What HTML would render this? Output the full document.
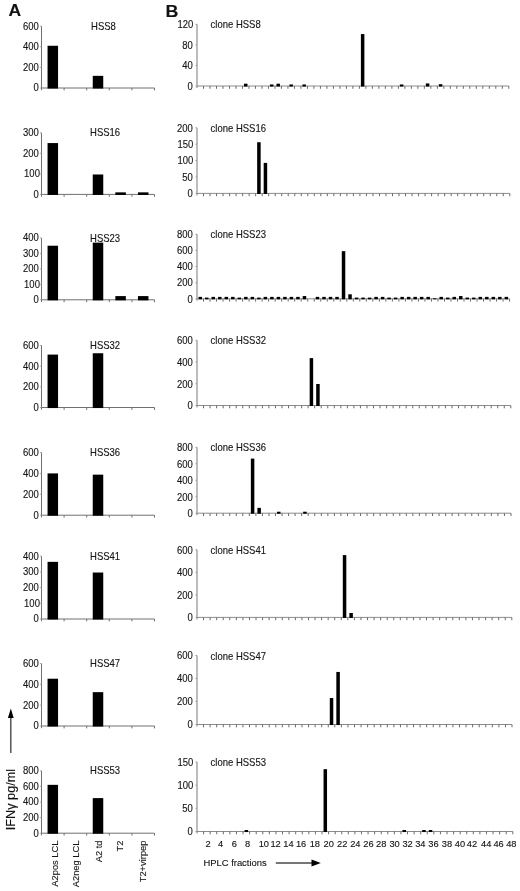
<!DOCTYPE html>
<html><head><meta charset="utf-8"><title>Figure</title>
<style>
html,body{margin:0;padding:0;background:#fff;}
body{width:520px;height:891px;overflow:hidden;}
svg{display:block;filter:blur(0.5px);}
svg text{font-family:"Liberation Sans",sans-serif;font-size:9.5px;fill:#111;stroke:#222;stroke-width:0.12px;}
</style></head><body>
<svg width="520" height="891" viewBox="0 0 520 891">
<rect x="0" y="0" width="520" height="891" fill="#fff"/>
<line x1="41.5" y1="26.2" x2="41.5" y2="90.2" stroke="#707070" stroke-width="1"/>
<line x1="41.5" y1="88" x2="154.5" y2="88" stroke="#707070" stroke-width="1"/>
<line x1="64.1" y1="88" x2="64.1" y2="90.4" stroke="#707070" stroke-width="1"/>
<line x1="86.7" y1="88" x2="86.7" y2="90.4" stroke="#707070" stroke-width="1"/>
<line x1="109.3" y1="88" x2="109.3" y2="90.4" stroke="#707070" stroke-width="1"/>
<line x1="131.9" y1="88" x2="131.9" y2="90.4" stroke="#707070" stroke-width="1"/>
<line x1="154.5" y1="88" x2="154.5" y2="90.4" stroke="#707070" stroke-width="1"/>
<line x1="39.9" y1="88" x2="41.5" y2="88" stroke="#a0a0a0" stroke-width="0.9"/>
<text transform="translate(38.7,91.35) scale(1,1.06)" text-anchor="end">0</text>
<line x1="39.9" y1="67.4" x2="41.5" y2="67.4" stroke="#a0a0a0" stroke-width="0.9"/>
<text transform="translate(38.7,70.75) scale(1,1.06)" text-anchor="end">200</text>
<line x1="39.9" y1="46.8" x2="41.5" y2="46.8" stroke="#a0a0a0" stroke-width="0.9"/>
<text transform="translate(38.7,50.15) scale(1,1.06)" text-anchor="end">400</text>
<line x1="39.9" y1="26.2" x2="41.5" y2="26.2" stroke="#a0a0a0" stroke-width="0.9"/>
<text transform="translate(38.7,29.55) scale(1,1.06)" text-anchor="end">600</text>
<text transform="translate(91.1,29.7) scale(1,1.06)">HSS8</text>
<rect x="47.55" y="45.77" width="10.5" height="42.78" fill="#000"/>
<rect x="92.75" y="75.85" width="10.5" height="12.7" fill="#000"/>
<line x1="41.5" y1="132.8" x2="41.5" y2="196.6" stroke="#707070" stroke-width="1"/>
<line x1="41.5" y1="194.4" x2="154.5" y2="194.4" stroke="#707070" stroke-width="1"/>
<line x1="64.1" y1="194.4" x2="64.1" y2="196.8" stroke="#707070" stroke-width="1"/>
<line x1="86.7" y1="194.4" x2="86.7" y2="196.8" stroke="#707070" stroke-width="1"/>
<line x1="109.3" y1="194.4" x2="109.3" y2="196.8" stroke="#707070" stroke-width="1"/>
<line x1="131.9" y1="194.4" x2="131.9" y2="196.8" stroke="#707070" stroke-width="1"/>
<line x1="154.5" y1="194.4" x2="154.5" y2="196.8" stroke="#707070" stroke-width="1"/>
<line x1="39.9" y1="194.4" x2="41.5" y2="194.4" stroke="#a0a0a0" stroke-width="0.9"/>
<text transform="translate(38.7,197.75) scale(1,1.06)" text-anchor="end">0</text>
<line x1="39.9" y1="173.87" x2="41.5" y2="173.87" stroke="#a0a0a0" stroke-width="0.9"/>
<text transform="translate(39.9,177.22) scale(1,1.06)" text-anchor="end">100</text>
<line x1="39.9" y1="153.33" x2="41.5" y2="153.33" stroke="#a0a0a0" stroke-width="0.9"/>
<text transform="translate(38.7,156.68) scale(1,1.06)" text-anchor="end">200</text>
<line x1="39.9" y1="132.8" x2="41.5" y2="132.8" stroke="#a0a0a0" stroke-width="0.9"/>
<text transform="translate(38.7,136.15) scale(1,1.06)" text-anchor="end">300</text>
<text transform="translate(90.1,136.3) scale(1,1.06)">HSS16</text>
<rect x="47.55" y="143.07" width="10.5" height="51.88" fill="#000"/>
<rect x="92.75" y="174.48" width="10.5" height="20.47" fill="#000"/>
<rect x="115.35" y="192.35" width="10.5" height="2.6" fill="#000"/>
<rect x="137.95" y="192.35" width="10.5" height="2.6" fill="#000"/>
<line x1="41.5" y1="238" x2="41.5" y2="302" stroke="#707070" stroke-width="1"/>
<line x1="41.5" y1="299.8" x2="154.5" y2="299.8" stroke="#707070" stroke-width="1"/>
<line x1="64.1" y1="299.8" x2="64.1" y2="302.2" stroke="#707070" stroke-width="1"/>
<line x1="86.7" y1="299.8" x2="86.7" y2="302.2" stroke="#707070" stroke-width="1"/>
<line x1="109.3" y1="299.8" x2="109.3" y2="302.2" stroke="#707070" stroke-width="1"/>
<line x1="131.9" y1="299.8" x2="131.9" y2="302.2" stroke="#707070" stroke-width="1"/>
<line x1="154.5" y1="299.8" x2="154.5" y2="302.2" stroke="#707070" stroke-width="1"/>
<line x1="39.9" y1="299.8" x2="41.5" y2="299.8" stroke="#a0a0a0" stroke-width="0.9"/>
<text transform="translate(38.7,303.15) scale(1,1.06)" text-anchor="end">0</text>
<line x1="39.9" y1="284.35" x2="41.5" y2="284.35" stroke="#a0a0a0" stroke-width="0.9"/>
<text transform="translate(39.9,287.7) scale(1,1.06)" text-anchor="end">100</text>
<line x1="39.9" y1="268.9" x2="41.5" y2="268.9" stroke="#a0a0a0" stroke-width="0.9"/>
<text transform="translate(38.7,272.25) scale(1,1.06)" text-anchor="end">200</text>
<line x1="39.9" y1="253.45" x2="41.5" y2="253.45" stroke="#a0a0a0" stroke-width="0.9"/>
<text transform="translate(38.7,256.8) scale(1,1.06)" text-anchor="end">300</text>
<line x1="39.9" y1="238" x2="41.5" y2="238" stroke="#a0a0a0" stroke-width="0.9"/>
<text transform="translate(38.7,241.35) scale(1,1.06)" text-anchor="end">400</text>
<text transform="translate(90.1,241.5) scale(1,1.06)">HSS23</text>
<rect x="47.55" y="245.72" width="10.5" height="54.63" fill="#000"/>
<rect x="92.75" y="242.63" width="10.5" height="57.72" fill="#000"/>
<rect x="115.35" y="296.09" width="10.5" height="4.26" fill="#000"/>
<rect x="137.95" y="296.09" width="10.5" height="4.26" fill="#000"/>
<line x1="41.5" y1="345.5" x2="41.5" y2="409.7" stroke="#707070" stroke-width="1"/>
<line x1="41.5" y1="407.5" x2="154.5" y2="407.5" stroke="#707070" stroke-width="1"/>
<line x1="64.1" y1="407.5" x2="64.1" y2="409.9" stroke="#707070" stroke-width="1"/>
<line x1="86.7" y1="407.5" x2="86.7" y2="409.9" stroke="#707070" stroke-width="1"/>
<line x1="109.3" y1="407.5" x2="109.3" y2="409.9" stroke="#707070" stroke-width="1"/>
<line x1="131.9" y1="407.5" x2="131.9" y2="409.9" stroke="#707070" stroke-width="1"/>
<line x1="154.5" y1="407.5" x2="154.5" y2="409.9" stroke="#707070" stroke-width="1"/>
<line x1="39.9" y1="407.5" x2="41.5" y2="407.5" stroke="#a0a0a0" stroke-width="0.9"/>
<text transform="translate(38.7,410.85) scale(1,1.06)" text-anchor="end">0</text>
<line x1="39.9" y1="386.83" x2="41.5" y2="386.83" stroke="#a0a0a0" stroke-width="0.9"/>
<text transform="translate(38.7,390.18) scale(1,1.06)" text-anchor="end">200</text>
<line x1="39.9" y1="366.17" x2="41.5" y2="366.17" stroke="#a0a0a0" stroke-width="0.9"/>
<text transform="translate(38.7,369.52) scale(1,1.06)" text-anchor="end">400</text>
<line x1="39.9" y1="345.5" x2="41.5" y2="345.5" stroke="#a0a0a0" stroke-width="0.9"/>
<text transform="translate(38.7,348.85) scale(1,1.06)" text-anchor="end">600</text>
<text transform="translate(90.1,349) scale(1,1.06)">HSS32</text>
<rect x="47.55" y="354.59" width="10.5" height="53.46" fill="#000"/>
<rect x="92.75" y="353.25" width="10.5" height="54.8" fill="#000"/>
<line x1="41.5" y1="452.5" x2="41.5" y2="517.4" stroke="#707070" stroke-width="1"/>
<line x1="41.5" y1="515.2" x2="154.5" y2="515.2" stroke="#707070" stroke-width="1"/>
<line x1="64.1" y1="515.2" x2="64.1" y2="517.6" stroke="#707070" stroke-width="1"/>
<line x1="86.7" y1="515.2" x2="86.7" y2="517.6" stroke="#707070" stroke-width="1"/>
<line x1="109.3" y1="515.2" x2="109.3" y2="517.6" stroke="#707070" stroke-width="1"/>
<line x1="131.9" y1="515.2" x2="131.9" y2="517.6" stroke="#707070" stroke-width="1"/>
<line x1="154.5" y1="515.2" x2="154.5" y2="517.6" stroke="#707070" stroke-width="1"/>
<line x1="39.9" y1="515.2" x2="41.5" y2="515.2" stroke="#a0a0a0" stroke-width="0.9"/>
<text transform="translate(38.7,518.55) scale(1,1.06)" text-anchor="end">0</text>
<line x1="39.9" y1="494.3" x2="41.5" y2="494.3" stroke="#a0a0a0" stroke-width="0.9"/>
<text transform="translate(38.7,497.65) scale(1,1.06)" text-anchor="end">200</text>
<line x1="39.9" y1="473.4" x2="41.5" y2="473.4" stroke="#a0a0a0" stroke-width="0.9"/>
<text transform="translate(38.7,476.75) scale(1,1.06)" text-anchor="end">400</text>
<line x1="39.9" y1="452.5" x2="41.5" y2="452.5" stroke="#a0a0a0" stroke-width="0.9"/>
<text transform="translate(38.7,455.85) scale(1,1.06)" text-anchor="end">600</text>
<text transform="translate(90.1,456) scale(1,1.06)">HSS36</text>
<rect x="47.55" y="473.4" width="10.5" height="42.35" fill="#000"/>
<rect x="92.75" y="474.65" width="10.5" height="41.1" fill="#000"/>
<line x1="41.5" y1="556.2" x2="41.5" y2="621.2" stroke="#707070" stroke-width="1"/>
<line x1="41.5" y1="619" x2="154.5" y2="619" stroke="#707070" stroke-width="1"/>
<line x1="64.1" y1="619" x2="64.1" y2="621.4" stroke="#707070" stroke-width="1"/>
<line x1="86.7" y1="619" x2="86.7" y2="621.4" stroke="#707070" stroke-width="1"/>
<line x1="109.3" y1="619" x2="109.3" y2="621.4" stroke="#707070" stroke-width="1"/>
<line x1="131.9" y1="619" x2="131.9" y2="621.4" stroke="#707070" stroke-width="1"/>
<line x1="154.5" y1="619" x2="154.5" y2="621.4" stroke="#707070" stroke-width="1"/>
<line x1="39.9" y1="619" x2="41.5" y2="619" stroke="#a0a0a0" stroke-width="0.9"/>
<text transform="translate(38.7,622.35) scale(1,1.06)" text-anchor="end">0</text>
<line x1="39.9" y1="603.3" x2="41.5" y2="603.3" stroke="#a0a0a0" stroke-width="0.9"/>
<text transform="translate(39.9,606.65) scale(1,1.06)" text-anchor="end">100</text>
<line x1="39.9" y1="587.6" x2="41.5" y2="587.6" stroke="#a0a0a0" stroke-width="0.9"/>
<text transform="translate(38.7,590.95) scale(1,1.06)" text-anchor="end">200</text>
<line x1="39.9" y1="571.9" x2="41.5" y2="571.9" stroke="#a0a0a0" stroke-width="0.9"/>
<text transform="translate(38.7,575.25) scale(1,1.06)" text-anchor="end">300</text>
<line x1="39.9" y1="556.2" x2="41.5" y2="556.2" stroke="#a0a0a0" stroke-width="0.9"/>
<text transform="translate(38.7,559.55) scale(1,1.06)" text-anchor="end">400</text>
<text transform="translate(90.1,559.7) scale(1,1.06)">HSS41</text>
<rect x="47.55" y="561.85" width="10.5" height="57.7" fill="#000"/>
<rect x="92.75" y="572.53" width="10.5" height="47.02" fill="#000"/>
<line x1="41.5" y1="663.5" x2="41.5" y2="728.2" stroke="#707070" stroke-width="1"/>
<line x1="41.5" y1="726" x2="154.5" y2="726" stroke="#707070" stroke-width="1"/>
<line x1="64.1" y1="726" x2="64.1" y2="728.4" stroke="#707070" stroke-width="1"/>
<line x1="86.7" y1="726" x2="86.7" y2="728.4" stroke="#707070" stroke-width="1"/>
<line x1="109.3" y1="726" x2="109.3" y2="728.4" stroke="#707070" stroke-width="1"/>
<line x1="131.9" y1="726" x2="131.9" y2="728.4" stroke="#707070" stroke-width="1"/>
<line x1="154.5" y1="726" x2="154.5" y2="728.4" stroke="#707070" stroke-width="1"/>
<line x1="39.9" y1="726" x2="41.5" y2="726" stroke="#a0a0a0" stroke-width="0.9"/>
<text transform="translate(38.7,729.35) scale(1,1.06)" text-anchor="end">0</text>
<line x1="39.9" y1="705.17" x2="41.5" y2="705.17" stroke="#a0a0a0" stroke-width="0.9"/>
<text transform="translate(38.7,708.52) scale(1,1.06)" text-anchor="end">200</text>
<line x1="39.9" y1="684.33" x2="41.5" y2="684.33" stroke="#a0a0a0" stroke-width="0.9"/>
<text transform="translate(38.7,687.68) scale(1,1.06)" text-anchor="end">400</text>
<line x1="39.9" y1="663.5" x2="41.5" y2="663.5" stroke="#a0a0a0" stroke-width="0.9"/>
<text transform="translate(38.7,666.85) scale(1,1.06)" text-anchor="end">600</text>
<text transform="translate(90.1,667) scale(1,1.06)">HSS47</text>
<rect x="47.55" y="678.71" width="10.5" height="47.84" fill="#000"/>
<rect x="92.75" y="692.15" width="10.5" height="34.4" fill="#000"/>
<line x1="41.5" y1="770.8" x2="41.5" y2="835.4" stroke="#707070" stroke-width="1"/>
<line x1="41.5" y1="833.2" x2="154.5" y2="833.2" stroke="#707070" stroke-width="1"/>
<line x1="64.1" y1="833.2" x2="64.1" y2="835.6" stroke="#707070" stroke-width="1"/>
<line x1="86.7" y1="833.2" x2="86.7" y2="835.6" stroke="#707070" stroke-width="1"/>
<line x1="109.3" y1="833.2" x2="109.3" y2="835.6" stroke="#707070" stroke-width="1"/>
<line x1="131.9" y1="833.2" x2="131.9" y2="835.6" stroke="#707070" stroke-width="1"/>
<line x1="154.5" y1="833.2" x2="154.5" y2="835.6" stroke="#707070" stroke-width="1"/>
<line x1="39.9" y1="833.2" x2="41.5" y2="833.2" stroke="#a0a0a0" stroke-width="0.9"/>
<text transform="translate(38.7,836.55) scale(1,1.06)" text-anchor="end">0</text>
<line x1="39.9" y1="817.6" x2="41.5" y2="817.6" stroke="#a0a0a0" stroke-width="0.9"/>
<text transform="translate(38.7,820.95) scale(1,1.06)" text-anchor="end">200</text>
<line x1="39.9" y1="802" x2="41.5" y2="802" stroke="#a0a0a0" stroke-width="0.9"/>
<text transform="translate(38.7,805.35) scale(1,1.06)" text-anchor="end">400</text>
<line x1="39.9" y1="786.4" x2="41.5" y2="786.4" stroke="#a0a0a0" stroke-width="0.9"/>
<text transform="translate(38.7,789.75) scale(1,1.06)" text-anchor="end">600</text>
<line x1="39.9" y1="770.8" x2="41.5" y2="770.8" stroke="#a0a0a0" stroke-width="0.9"/>
<text transform="translate(38.7,774.15) scale(1,1.06)" text-anchor="end">800</text>
<text transform="translate(90.1,774.3) scale(1,1.06)">HSS53</text>
<rect x="47.55" y="784.84" width="10.5" height="48.91" fill="#000"/>
<rect x="92.75" y="798.1" width="10.5" height="35.65" fill="#000"/>
<text transform="translate(57.9,840.5) rotate(-90)" text-anchor="end" style="font-size:9.35px">A2pos LCL</text>
<text transform="translate(79.4,840.5) rotate(-90)" text-anchor="end" style="font-size:9.35px">A2neg LCL</text>
<text transform="translate(101.6,840.5) rotate(-90)" text-anchor="end" style="font-size:9.35px">A2 td</text>
<text transform="translate(123.4,840.5) rotate(-90)" text-anchor="end" style="font-size:9.35px">T2</text>
<text transform="translate(145.6,840.5) rotate(-90)" text-anchor="end" style="font-size:9.35px">T2+virpep</text>
<line x1="197" y1="24.3" x2="197" y2="88" stroke="#999" stroke-width="1.3"/>
<line x1="197" y1="86" x2="508.8" y2="86" stroke="#8c8c8c" stroke-width="1"/>
<line x1="203.5" y1="86" x2="203.5" y2="88.8" stroke="#6a6a6a" stroke-width="1"/>
<line x1="209.99" y1="86" x2="209.99" y2="88.8" stroke="#6a6a6a" stroke-width="1"/>
<line x1="216.49" y1="86" x2="216.49" y2="88.8" stroke="#6a6a6a" stroke-width="1"/>
<line x1="222.98" y1="86" x2="222.98" y2="88.8" stroke="#6a6a6a" stroke-width="1"/>
<line x1="229.48" y1="86" x2="229.48" y2="88.8" stroke="#6a6a6a" stroke-width="1"/>
<line x1="235.97" y1="86" x2="235.97" y2="88.8" stroke="#6a6a6a" stroke-width="1"/>
<line x1="242.47" y1="86" x2="242.47" y2="88.8" stroke="#6a6a6a" stroke-width="1"/>
<line x1="248.97" y1="86" x2="248.97" y2="88.8" stroke="#6a6a6a" stroke-width="1"/>
<line x1="255.46" y1="86" x2="255.46" y2="88.8" stroke="#6a6a6a" stroke-width="1"/>
<line x1="261.96" y1="86" x2="261.96" y2="88.8" stroke="#6a6a6a" stroke-width="1"/>
<line x1="268.45" y1="86" x2="268.45" y2="88.8" stroke="#6a6a6a" stroke-width="1"/>
<line x1="274.95" y1="86" x2="274.95" y2="88.8" stroke="#6a6a6a" stroke-width="1"/>
<line x1="281.45" y1="86" x2="281.45" y2="88.8" stroke="#6a6a6a" stroke-width="1"/>
<line x1="287.94" y1="86" x2="287.94" y2="88.8" stroke="#6a6a6a" stroke-width="1"/>
<line x1="294.44" y1="86" x2="294.44" y2="88.8" stroke="#6a6a6a" stroke-width="1"/>
<line x1="300.93" y1="86" x2="300.93" y2="88.8" stroke="#6a6a6a" stroke-width="1"/>
<line x1="307.43" y1="86" x2="307.43" y2="88.8" stroke="#6a6a6a" stroke-width="1"/>
<line x1="313.93" y1="86" x2="313.93" y2="88.8" stroke="#6a6a6a" stroke-width="1"/>
<line x1="320.42" y1="86" x2="320.42" y2="88.8" stroke="#6a6a6a" stroke-width="1"/>
<line x1="326.92" y1="86" x2="326.92" y2="88.8" stroke="#6a6a6a" stroke-width="1"/>
<line x1="333.41" y1="86" x2="333.41" y2="88.8" stroke="#6a6a6a" stroke-width="1"/>
<line x1="339.91" y1="86" x2="339.91" y2="88.8" stroke="#6a6a6a" stroke-width="1"/>
<line x1="346.4" y1="86" x2="346.4" y2="88.8" stroke="#6a6a6a" stroke-width="1"/>
<line x1="352.9" y1="86" x2="352.9" y2="88.8" stroke="#6a6a6a" stroke-width="1"/>
<line x1="359.4" y1="86" x2="359.4" y2="88.8" stroke="#6a6a6a" stroke-width="1"/>
<line x1="365.89" y1="86" x2="365.89" y2="88.8" stroke="#6a6a6a" stroke-width="1"/>
<line x1="372.39" y1="86" x2="372.39" y2="88.8" stroke="#6a6a6a" stroke-width="1"/>
<line x1="378.88" y1="86" x2="378.88" y2="88.8" stroke="#6a6a6a" stroke-width="1"/>
<line x1="385.38" y1="86" x2="385.38" y2="88.8" stroke="#6a6a6a" stroke-width="1"/>
<line x1="391.88" y1="86" x2="391.88" y2="88.8" stroke="#6a6a6a" stroke-width="1"/>
<line x1="398.37" y1="86" x2="398.37" y2="88.8" stroke="#6a6a6a" stroke-width="1"/>
<line x1="404.87" y1="86" x2="404.87" y2="88.8" stroke="#6a6a6a" stroke-width="1"/>
<line x1="411.36" y1="86" x2="411.36" y2="88.8" stroke="#6a6a6a" stroke-width="1"/>
<line x1="417.86" y1="86" x2="417.86" y2="88.8" stroke="#6a6a6a" stroke-width="1"/>
<line x1="424.35" y1="86" x2="424.35" y2="88.8" stroke="#6a6a6a" stroke-width="1"/>
<line x1="430.85" y1="86" x2="430.85" y2="88.8" stroke="#6a6a6a" stroke-width="1"/>
<line x1="437.35" y1="86" x2="437.35" y2="88.8" stroke="#6a6a6a" stroke-width="1"/>
<line x1="443.84" y1="86" x2="443.84" y2="88.8" stroke="#6a6a6a" stroke-width="1"/>
<line x1="450.34" y1="86" x2="450.34" y2="88.8" stroke="#6a6a6a" stroke-width="1"/>
<line x1="456.83" y1="86" x2="456.83" y2="88.8" stroke="#6a6a6a" stroke-width="1"/>
<line x1="463.33" y1="86" x2="463.33" y2="88.8" stroke="#6a6a6a" stroke-width="1"/>
<line x1="469.82" y1="86" x2="469.82" y2="88.8" stroke="#6a6a6a" stroke-width="1"/>
<line x1="476.32" y1="86" x2="476.32" y2="88.8" stroke="#6a6a6a" stroke-width="1"/>
<line x1="482.82" y1="86" x2="482.82" y2="88.8" stroke="#6a6a6a" stroke-width="1"/>
<line x1="489.31" y1="86" x2="489.31" y2="88.8" stroke="#6a6a6a" stroke-width="1"/>
<line x1="495.81" y1="86" x2="495.81" y2="88.8" stroke="#6a6a6a" stroke-width="1"/>
<line x1="502.3" y1="86" x2="502.3" y2="88.8" stroke="#6a6a6a" stroke-width="1"/>
<line x1="508.8" y1="86" x2="508.8" y2="88.8" stroke="#6a6a6a" stroke-width="1"/>
<line x1="195.5" y1="86" x2="197" y2="86" stroke="#999" stroke-width="1"/>
<text transform="translate(192.8,89.8) scale(1,1.06)" text-anchor="end">0</text>
<line x1="195.5" y1="65.43" x2="197" y2="65.43" stroke="#999" stroke-width="1"/>
<text transform="translate(192.8,69.23) scale(1,1.06)" text-anchor="end">40</text>
<line x1="195.5" y1="44.87" x2="197" y2="44.87" stroke="#999" stroke-width="1"/>
<text transform="translate(192.8,48.67) scale(1,1.06)" text-anchor="end">80</text>
<line x1="195.5" y1="24.3" x2="197" y2="24.3" stroke="#999" stroke-width="1"/>
<text transform="translate(193.2,28.1) scale(1,1.06)" text-anchor="end">120</text>
<text transform="translate(210.6,28.3) scale(1,1.06)">clone HSS8</text>
<rect x="243.97" y="83.69" width="3.5" height="2.86" fill="#000"/>
<rect x="269.95" y="84.46" width="3.5" height="2.09" fill="#000"/>
<rect x="276.45" y="83.69" width="3.5" height="2.86" fill="#000"/>
<rect x="289.44" y="84.46" width="3.5" height="2.09" fill="#000"/>
<rect x="302.43" y="84.46" width="3.5" height="2.09" fill="#000"/>
<rect x="360.89" y="34.07" width="3.5" height="52.48" fill="#000"/>
<rect x="399.87" y="84.46" width="3.5" height="2.09" fill="#000"/>
<rect x="425.85" y="83.43" width="3.5" height="3.12" fill="#000"/>
<rect x="438.84" y="84.2" width="3.5" height="2.35" fill="#000"/>
<line x1="197" y1="127.8" x2="197" y2="195.4" stroke="#999" stroke-width="1.3"/>
<line x1="197" y1="193.4" x2="509.8" y2="193.4" stroke="#8c8c8c" stroke-width="1"/>
<line x1="203.52" y1="193.4" x2="203.52" y2="196.2" stroke="#6a6a6a" stroke-width="1"/>
<line x1="210.03" y1="193.4" x2="210.03" y2="196.2" stroke="#6a6a6a" stroke-width="1"/>
<line x1="216.55" y1="193.4" x2="216.55" y2="196.2" stroke="#6a6a6a" stroke-width="1"/>
<line x1="223.07" y1="193.4" x2="223.07" y2="196.2" stroke="#6a6a6a" stroke-width="1"/>
<line x1="229.58" y1="193.4" x2="229.58" y2="196.2" stroke="#6a6a6a" stroke-width="1"/>
<line x1="236.1" y1="193.4" x2="236.1" y2="196.2" stroke="#6a6a6a" stroke-width="1"/>
<line x1="242.62" y1="193.4" x2="242.62" y2="196.2" stroke="#6a6a6a" stroke-width="1"/>
<line x1="249.13" y1="193.4" x2="249.13" y2="196.2" stroke="#6a6a6a" stroke-width="1"/>
<line x1="255.65" y1="193.4" x2="255.65" y2="196.2" stroke="#6a6a6a" stroke-width="1"/>
<line x1="262.17" y1="193.4" x2="262.17" y2="196.2" stroke="#6a6a6a" stroke-width="1"/>
<line x1="268.68" y1="193.4" x2="268.68" y2="196.2" stroke="#6a6a6a" stroke-width="1"/>
<line x1="275.2" y1="193.4" x2="275.2" y2="196.2" stroke="#6a6a6a" stroke-width="1"/>
<line x1="281.72" y1="193.4" x2="281.72" y2="196.2" stroke="#6a6a6a" stroke-width="1"/>
<line x1="288.23" y1="193.4" x2="288.23" y2="196.2" stroke="#6a6a6a" stroke-width="1"/>
<line x1="294.75" y1="193.4" x2="294.75" y2="196.2" stroke="#6a6a6a" stroke-width="1"/>
<line x1="301.27" y1="193.4" x2="301.27" y2="196.2" stroke="#6a6a6a" stroke-width="1"/>
<line x1="307.78" y1="193.4" x2="307.78" y2="196.2" stroke="#6a6a6a" stroke-width="1"/>
<line x1="314.3" y1="193.4" x2="314.3" y2="196.2" stroke="#6a6a6a" stroke-width="1"/>
<line x1="320.82" y1="193.4" x2="320.82" y2="196.2" stroke="#6a6a6a" stroke-width="1"/>
<line x1="327.33" y1="193.4" x2="327.33" y2="196.2" stroke="#6a6a6a" stroke-width="1"/>
<line x1="333.85" y1="193.4" x2="333.85" y2="196.2" stroke="#6a6a6a" stroke-width="1"/>
<line x1="340.37" y1="193.4" x2="340.37" y2="196.2" stroke="#6a6a6a" stroke-width="1"/>
<line x1="346.88" y1="193.4" x2="346.88" y2="196.2" stroke="#6a6a6a" stroke-width="1"/>
<line x1="353.4" y1="193.4" x2="353.4" y2="196.2" stroke="#6a6a6a" stroke-width="1"/>
<line x1="359.92" y1="193.4" x2="359.92" y2="196.2" stroke="#6a6a6a" stroke-width="1"/>
<line x1="366.43" y1="193.4" x2="366.43" y2="196.2" stroke="#6a6a6a" stroke-width="1"/>
<line x1="372.95" y1="193.4" x2="372.95" y2="196.2" stroke="#6a6a6a" stroke-width="1"/>
<line x1="379.47" y1="193.4" x2="379.47" y2="196.2" stroke="#6a6a6a" stroke-width="1"/>
<line x1="385.98" y1="193.4" x2="385.98" y2="196.2" stroke="#6a6a6a" stroke-width="1"/>
<line x1="392.5" y1="193.4" x2="392.5" y2="196.2" stroke="#6a6a6a" stroke-width="1"/>
<line x1="399.02" y1="193.4" x2="399.02" y2="196.2" stroke="#6a6a6a" stroke-width="1"/>
<line x1="405.53" y1="193.4" x2="405.53" y2="196.2" stroke="#6a6a6a" stroke-width="1"/>
<line x1="412.05" y1="193.4" x2="412.05" y2="196.2" stroke="#6a6a6a" stroke-width="1"/>
<line x1="418.57" y1="193.4" x2="418.57" y2="196.2" stroke="#6a6a6a" stroke-width="1"/>
<line x1="425.08" y1="193.4" x2="425.08" y2="196.2" stroke="#6a6a6a" stroke-width="1"/>
<line x1="431.6" y1="193.4" x2="431.6" y2="196.2" stroke="#6a6a6a" stroke-width="1"/>
<line x1="438.12" y1="193.4" x2="438.12" y2="196.2" stroke="#6a6a6a" stroke-width="1"/>
<line x1="444.63" y1="193.4" x2="444.63" y2="196.2" stroke="#6a6a6a" stroke-width="1"/>
<line x1="451.15" y1="193.4" x2="451.15" y2="196.2" stroke="#6a6a6a" stroke-width="1"/>
<line x1="457.67" y1="193.4" x2="457.67" y2="196.2" stroke="#6a6a6a" stroke-width="1"/>
<line x1="464.18" y1="193.4" x2="464.18" y2="196.2" stroke="#6a6a6a" stroke-width="1"/>
<line x1="470.7" y1="193.4" x2="470.7" y2="196.2" stroke="#6a6a6a" stroke-width="1"/>
<line x1="477.22" y1="193.4" x2="477.22" y2="196.2" stroke="#6a6a6a" stroke-width="1"/>
<line x1="483.73" y1="193.4" x2="483.73" y2="196.2" stroke="#6a6a6a" stroke-width="1"/>
<line x1="490.25" y1="193.4" x2="490.25" y2="196.2" stroke="#6a6a6a" stroke-width="1"/>
<line x1="496.77" y1="193.4" x2="496.77" y2="196.2" stroke="#6a6a6a" stroke-width="1"/>
<line x1="503.28" y1="193.4" x2="503.28" y2="196.2" stroke="#6a6a6a" stroke-width="1"/>
<line x1="509.8" y1="193.4" x2="509.8" y2="196.2" stroke="#6a6a6a" stroke-width="1"/>
<line x1="195.5" y1="193.4" x2="197" y2="193.4" stroke="#999" stroke-width="1"/>
<text transform="translate(192.8,197.2) scale(1,1.06)" text-anchor="end">0</text>
<line x1="195.5" y1="177" x2="197" y2="177" stroke="#999" stroke-width="1"/>
<text transform="translate(192.8,180.8) scale(1,1.06)" text-anchor="end">50</text>
<line x1="195.5" y1="160.6" x2="197" y2="160.6" stroke="#999" stroke-width="1"/>
<text transform="translate(193.2,164.4) scale(1,1.06)" text-anchor="end">100</text>
<line x1="195.5" y1="144.2" x2="197" y2="144.2" stroke="#999" stroke-width="1"/>
<text transform="translate(193.2,148) scale(1,1.06)" text-anchor="end">150</text>
<line x1="195.5" y1="127.8" x2="197" y2="127.8" stroke="#999" stroke-width="1"/>
<text transform="translate(192.8,131.6) scale(1,1.06)" text-anchor="end">200</text>
<text transform="translate(210.6,131.8) scale(1,1.06)">clone HSS16</text>
<rect x="257.16" y="142.23" width="3.5" height="51.72" fill="#000"/>
<rect x="263.68" y="162.9" width="3.5" height="31.05" fill="#000"/>
<line x1="197" y1="234.3" x2="197" y2="300.8" stroke="#999" stroke-width="1.3"/>
<line x1="197" y1="298.8" x2="509.6" y2="298.8" stroke="#8c8c8c" stroke-width="1"/>
<line x1="203.51" y1="298.8" x2="203.51" y2="301.6" stroke="#6a6a6a" stroke-width="1"/>
<line x1="210.03" y1="298.8" x2="210.03" y2="301.6" stroke="#6a6a6a" stroke-width="1"/>
<line x1="216.54" y1="298.8" x2="216.54" y2="301.6" stroke="#6a6a6a" stroke-width="1"/>
<line x1="223.05" y1="298.8" x2="223.05" y2="301.6" stroke="#6a6a6a" stroke-width="1"/>
<line x1="229.56" y1="298.8" x2="229.56" y2="301.6" stroke="#6a6a6a" stroke-width="1"/>
<line x1="236.07" y1="298.8" x2="236.07" y2="301.6" stroke="#6a6a6a" stroke-width="1"/>
<line x1="242.59" y1="298.8" x2="242.59" y2="301.6" stroke="#6a6a6a" stroke-width="1"/>
<line x1="249.1" y1="298.8" x2="249.1" y2="301.6" stroke="#6a6a6a" stroke-width="1"/>
<line x1="255.61" y1="298.8" x2="255.61" y2="301.6" stroke="#6a6a6a" stroke-width="1"/>
<line x1="262.12" y1="298.8" x2="262.12" y2="301.6" stroke="#6a6a6a" stroke-width="1"/>
<line x1="268.64" y1="298.8" x2="268.64" y2="301.6" stroke="#6a6a6a" stroke-width="1"/>
<line x1="275.15" y1="298.8" x2="275.15" y2="301.6" stroke="#6a6a6a" stroke-width="1"/>
<line x1="281.66" y1="298.8" x2="281.66" y2="301.6" stroke="#6a6a6a" stroke-width="1"/>
<line x1="288.18" y1="298.8" x2="288.18" y2="301.6" stroke="#6a6a6a" stroke-width="1"/>
<line x1="294.69" y1="298.8" x2="294.69" y2="301.6" stroke="#6a6a6a" stroke-width="1"/>
<line x1="301.2" y1="298.8" x2="301.2" y2="301.6" stroke="#6a6a6a" stroke-width="1"/>
<line x1="307.71" y1="298.8" x2="307.71" y2="301.6" stroke="#6a6a6a" stroke-width="1"/>
<line x1="314.23" y1="298.8" x2="314.23" y2="301.6" stroke="#6a6a6a" stroke-width="1"/>
<line x1="320.74" y1="298.8" x2="320.74" y2="301.6" stroke="#6a6a6a" stroke-width="1"/>
<line x1="327.25" y1="298.8" x2="327.25" y2="301.6" stroke="#6a6a6a" stroke-width="1"/>
<line x1="333.76" y1="298.8" x2="333.76" y2="301.6" stroke="#6a6a6a" stroke-width="1"/>
<line x1="340.27" y1="298.8" x2="340.27" y2="301.6" stroke="#6a6a6a" stroke-width="1"/>
<line x1="346.79" y1="298.8" x2="346.79" y2="301.6" stroke="#6a6a6a" stroke-width="1"/>
<line x1="353.3" y1="298.8" x2="353.3" y2="301.6" stroke="#6a6a6a" stroke-width="1"/>
<line x1="359.81" y1="298.8" x2="359.81" y2="301.6" stroke="#6a6a6a" stroke-width="1"/>
<line x1="366.33" y1="298.8" x2="366.33" y2="301.6" stroke="#6a6a6a" stroke-width="1"/>
<line x1="372.84" y1="298.8" x2="372.84" y2="301.6" stroke="#6a6a6a" stroke-width="1"/>
<line x1="379.35" y1="298.8" x2="379.35" y2="301.6" stroke="#6a6a6a" stroke-width="1"/>
<line x1="385.86" y1="298.8" x2="385.86" y2="301.6" stroke="#6a6a6a" stroke-width="1"/>
<line x1="392.38" y1="298.8" x2="392.38" y2="301.6" stroke="#6a6a6a" stroke-width="1"/>
<line x1="398.89" y1="298.8" x2="398.89" y2="301.6" stroke="#6a6a6a" stroke-width="1"/>
<line x1="405.4" y1="298.8" x2="405.4" y2="301.6" stroke="#6a6a6a" stroke-width="1"/>
<line x1="411.91" y1="298.8" x2="411.91" y2="301.6" stroke="#6a6a6a" stroke-width="1"/>
<line x1="418.43" y1="298.8" x2="418.43" y2="301.6" stroke="#6a6a6a" stroke-width="1"/>
<line x1="424.94" y1="298.8" x2="424.94" y2="301.6" stroke="#6a6a6a" stroke-width="1"/>
<line x1="431.45" y1="298.8" x2="431.45" y2="301.6" stroke="#6a6a6a" stroke-width="1"/>
<line x1="437.96" y1="298.8" x2="437.96" y2="301.6" stroke="#6a6a6a" stroke-width="1"/>
<line x1="444.48" y1="298.8" x2="444.48" y2="301.6" stroke="#6a6a6a" stroke-width="1"/>
<line x1="450.99" y1="298.8" x2="450.99" y2="301.6" stroke="#6a6a6a" stroke-width="1"/>
<line x1="457.5" y1="298.8" x2="457.5" y2="301.6" stroke="#6a6a6a" stroke-width="1"/>
<line x1="464.01" y1="298.8" x2="464.01" y2="301.6" stroke="#6a6a6a" stroke-width="1"/>
<line x1="470.53" y1="298.8" x2="470.53" y2="301.6" stroke="#6a6a6a" stroke-width="1"/>
<line x1="477.04" y1="298.8" x2="477.04" y2="301.6" stroke="#6a6a6a" stroke-width="1"/>
<line x1="483.55" y1="298.8" x2="483.55" y2="301.6" stroke="#6a6a6a" stroke-width="1"/>
<line x1="490.06" y1="298.8" x2="490.06" y2="301.6" stroke="#6a6a6a" stroke-width="1"/>
<line x1="496.57" y1="298.8" x2="496.57" y2="301.6" stroke="#6a6a6a" stroke-width="1"/>
<line x1="503.09" y1="298.8" x2="503.09" y2="301.6" stroke="#6a6a6a" stroke-width="1"/>
<line x1="509.6" y1="298.8" x2="509.6" y2="301.6" stroke="#6a6a6a" stroke-width="1"/>
<line x1="195.5" y1="298.8" x2="197" y2="298.8" stroke="#999" stroke-width="1"/>
<text transform="translate(192.8,302.6) scale(1,1.06)" text-anchor="end">0</text>
<line x1="195.5" y1="282.68" x2="197" y2="282.68" stroke="#999" stroke-width="1"/>
<text transform="translate(192.8,286.48) scale(1,1.06)" text-anchor="end">200</text>
<line x1="195.5" y1="266.55" x2="197" y2="266.55" stroke="#999" stroke-width="1"/>
<text transform="translate(192.8,270.35) scale(1,1.06)" text-anchor="end">400</text>
<line x1="195.5" y1="250.43" x2="197" y2="250.43" stroke="#999" stroke-width="1"/>
<text transform="translate(192.8,254.23) scale(1,1.06)" text-anchor="end">600</text>
<line x1="195.5" y1="234.3" x2="197" y2="234.3" stroke="#999" stroke-width="1"/>
<text transform="translate(192.8,238.1) scale(1,1.06)" text-anchor="end">800</text>
<text transform="translate(210.6,238.3) scale(1,1.06)">clone HSS23</text>
<rect x="198.51" y="296.87" width="3.5" height="2.48" fill="#000"/>
<rect x="205.02" y="297.59" width="3.5" height="1.76" fill="#000"/>
<rect x="211.53" y="296.87" width="3.5" height="2.48" fill="#000"/>
<rect x="218.04" y="296.87" width="3.5" height="2.48" fill="#000"/>
<rect x="224.56" y="296.87" width="3.5" height="2.48" fill="#000"/>
<rect x="231.07" y="296.87" width="3.5" height="2.48" fill="#000"/>
<rect x="237.58" y="297.59" width="3.5" height="1.76" fill="#000"/>
<rect x="244.09" y="296.87" width="3.5" height="2.48" fill="#000"/>
<rect x="250.61" y="296.87" width="3.5" height="2.48" fill="#000"/>
<rect x="257.12" y="297.59" width="3.5" height="1.76" fill="#000"/>
<rect x="263.63" y="296.87" width="3.5" height="2.48" fill="#000"/>
<rect x="270.14" y="296.87" width="3.5" height="2.48" fill="#000"/>
<rect x="276.66" y="296.87" width="3.5" height="2.48" fill="#000"/>
<rect x="283.17" y="296.87" width="3.5" height="2.48" fill="#000"/>
<rect x="289.68" y="296.87" width="3.5" height="2.48" fill="#000"/>
<rect x="296.19" y="296.87" width="3.5" height="2.48" fill="#000"/>
<rect x="302.71" y="296.06" width="3.5" height="3.29" fill="#000"/>
<rect x="315.73" y="296.87" width="3.5" height="2.48" fill="#000"/>
<rect x="322.24" y="296.87" width="3.5" height="2.48" fill="#000"/>
<rect x="328.76" y="296.87" width="3.5" height="2.48" fill="#000"/>
<rect x="335.27" y="296.87" width="3.5" height="2.48" fill="#000"/>
<rect x="341.78" y="251.15" width="3.5" height="48.2" fill="#000"/>
<rect x="348.29" y="294.29" width="3.5" height="5.07" fill="#000"/>
<rect x="354.81" y="297.59" width="3.5" height="1.76" fill="#000"/>
<rect x="361.32" y="297.59" width="3.5" height="1.76" fill="#000"/>
<rect x="367.83" y="297.59" width="3.5" height="1.76" fill="#000"/>
<rect x="374.34" y="296.87" width="3.5" height="2.48" fill="#000"/>
<rect x="380.86" y="296.87" width="3.5" height="2.48" fill="#000"/>
<rect x="387.37" y="297.59" width="3.5" height="1.76" fill="#000"/>
<rect x="393.88" y="297.59" width="3.5" height="1.76" fill="#000"/>
<rect x="400.39" y="296.87" width="3.5" height="2.48" fill="#000"/>
<rect x="406.91" y="296.87" width="3.5" height="2.48" fill="#000"/>
<rect x="413.42" y="296.87" width="3.5" height="2.48" fill="#000"/>
<rect x="419.93" y="296.87" width="3.5" height="2.48" fill="#000"/>
<rect x="426.44" y="296.87" width="3.5" height="2.48" fill="#000"/>
<rect x="432.96" y="298.32" width="3.5" height="1.03" fill="#000"/>
<rect x="439.47" y="296.87" width="3.5" height="2.48" fill="#000"/>
<rect x="445.98" y="297.59" width="3.5" height="1.76" fill="#000"/>
<rect x="452.49" y="296.87" width="3.5" height="2.48" fill="#000"/>
<rect x="459.01" y="296.06" width="3.5" height="3.29" fill="#000"/>
<rect x="465.52" y="297.59" width="3.5" height="1.76" fill="#000"/>
<rect x="472.03" y="297.59" width="3.5" height="1.76" fill="#000"/>
<rect x="478.54" y="296.87" width="3.5" height="2.48" fill="#000"/>
<rect x="485.06" y="296.87" width="3.5" height="2.48" fill="#000"/>
<rect x="491.57" y="296.87" width="3.5" height="2.48" fill="#000"/>
<rect x="498.08" y="296.87" width="3.5" height="2.48" fill="#000"/>
<rect x="504.59" y="296.87" width="3.5" height="2.48" fill="#000"/>
<line x1="197" y1="340.3" x2="197" y2="407.5" stroke="#999" stroke-width="1.3"/>
<line x1="197" y1="405.5" x2="510.8" y2="405.5" stroke="#8c8c8c" stroke-width="1"/>
<line x1="203.54" y1="405.5" x2="203.54" y2="408.3" stroke="#6a6a6a" stroke-width="1"/>
<line x1="210.07" y1="405.5" x2="210.07" y2="408.3" stroke="#6a6a6a" stroke-width="1"/>
<line x1="216.61" y1="405.5" x2="216.61" y2="408.3" stroke="#6a6a6a" stroke-width="1"/>
<line x1="223.15" y1="405.5" x2="223.15" y2="408.3" stroke="#6a6a6a" stroke-width="1"/>
<line x1="229.69" y1="405.5" x2="229.69" y2="408.3" stroke="#6a6a6a" stroke-width="1"/>
<line x1="236.22" y1="405.5" x2="236.22" y2="408.3" stroke="#6a6a6a" stroke-width="1"/>
<line x1="242.76" y1="405.5" x2="242.76" y2="408.3" stroke="#6a6a6a" stroke-width="1"/>
<line x1="249.3" y1="405.5" x2="249.3" y2="408.3" stroke="#6a6a6a" stroke-width="1"/>
<line x1="255.84" y1="405.5" x2="255.84" y2="408.3" stroke="#6a6a6a" stroke-width="1"/>
<line x1="262.38" y1="405.5" x2="262.38" y2="408.3" stroke="#6a6a6a" stroke-width="1"/>
<line x1="268.91" y1="405.5" x2="268.91" y2="408.3" stroke="#6a6a6a" stroke-width="1"/>
<line x1="275.45" y1="405.5" x2="275.45" y2="408.3" stroke="#6a6a6a" stroke-width="1"/>
<line x1="281.99" y1="405.5" x2="281.99" y2="408.3" stroke="#6a6a6a" stroke-width="1"/>
<line x1="288.52" y1="405.5" x2="288.52" y2="408.3" stroke="#6a6a6a" stroke-width="1"/>
<line x1="295.06" y1="405.5" x2="295.06" y2="408.3" stroke="#6a6a6a" stroke-width="1"/>
<line x1="301.6" y1="405.5" x2="301.6" y2="408.3" stroke="#6a6a6a" stroke-width="1"/>
<line x1="308.14" y1="405.5" x2="308.14" y2="408.3" stroke="#6a6a6a" stroke-width="1"/>
<line x1="314.68" y1="405.5" x2="314.68" y2="408.3" stroke="#6a6a6a" stroke-width="1"/>
<line x1="321.21" y1="405.5" x2="321.21" y2="408.3" stroke="#6a6a6a" stroke-width="1"/>
<line x1="327.75" y1="405.5" x2="327.75" y2="408.3" stroke="#6a6a6a" stroke-width="1"/>
<line x1="334.29" y1="405.5" x2="334.29" y2="408.3" stroke="#6a6a6a" stroke-width="1"/>
<line x1="340.83" y1="405.5" x2="340.83" y2="408.3" stroke="#6a6a6a" stroke-width="1"/>
<line x1="347.36" y1="405.5" x2="347.36" y2="408.3" stroke="#6a6a6a" stroke-width="1"/>
<line x1="353.9" y1="405.5" x2="353.9" y2="408.3" stroke="#6a6a6a" stroke-width="1"/>
<line x1="360.44" y1="405.5" x2="360.44" y2="408.3" stroke="#6a6a6a" stroke-width="1"/>
<line x1="366.98" y1="405.5" x2="366.98" y2="408.3" stroke="#6a6a6a" stroke-width="1"/>
<line x1="373.51" y1="405.5" x2="373.51" y2="408.3" stroke="#6a6a6a" stroke-width="1"/>
<line x1="380.05" y1="405.5" x2="380.05" y2="408.3" stroke="#6a6a6a" stroke-width="1"/>
<line x1="386.59" y1="405.5" x2="386.59" y2="408.3" stroke="#6a6a6a" stroke-width="1"/>
<line x1="393.12" y1="405.5" x2="393.12" y2="408.3" stroke="#6a6a6a" stroke-width="1"/>
<line x1="399.66" y1="405.5" x2="399.66" y2="408.3" stroke="#6a6a6a" stroke-width="1"/>
<line x1="406.2" y1="405.5" x2="406.2" y2="408.3" stroke="#6a6a6a" stroke-width="1"/>
<line x1="412.74" y1="405.5" x2="412.74" y2="408.3" stroke="#6a6a6a" stroke-width="1"/>
<line x1="419.27" y1="405.5" x2="419.27" y2="408.3" stroke="#6a6a6a" stroke-width="1"/>
<line x1="425.81" y1="405.5" x2="425.81" y2="408.3" stroke="#6a6a6a" stroke-width="1"/>
<line x1="432.35" y1="405.5" x2="432.35" y2="408.3" stroke="#6a6a6a" stroke-width="1"/>
<line x1="438.89" y1="405.5" x2="438.89" y2="408.3" stroke="#6a6a6a" stroke-width="1"/>
<line x1="445.43" y1="405.5" x2="445.43" y2="408.3" stroke="#6a6a6a" stroke-width="1"/>
<line x1="451.96" y1="405.5" x2="451.96" y2="408.3" stroke="#6a6a6a" stroke-width="1"/>
<line x1="458.5" y1="405.5" x2="458.5" y2="408.3" stroke="#6a6a6a" stroke-width="1"/>
<line x1="465.04" y1="405.5" x2="465.04" y2="408.3" stroke="#6a6a6a" stroke-width="1"/>
<line x1="471.58" y1="405.5" x2="471.58" y2="408.3" stroke="#6a6a6a" stroke-width="1"/>
<line x1="478.11" y1="405.5" x2="478.11" y2="408.3" stroke="#6a6a6a" stroke-width="1"/>
<line x1="484.65" y1="405.5" x2="484.65" y2="408.3" stroke="#6a6a6a" stroke-width="1"/>
<line x1="491.19" y1="405.5" x2="491.19" y2="408.3" stroke="#6a6a6a" stroke-width="1"/>
<line x1="497.73" y1="405.5" x2="497.73" y2="408.3" stroke="#6a6a6a" stroke-width="1"/>
<line x1="504.26" y1="405.5" x2="504.26" y2="408.3" stroke="#6a6a6a" stroke-width="1"/>
<line x1="510.8" y1="405.5" x2="510.8" y2="408.3" stroke="#6a6a6a" stroke-width="1"/>
<line x1="195.5" y1="405.5" x2="197" y2="405.5" stroke="#999" stroke-width="1"/>
<text transform="translate(192.8,409.3) scale(1,1.06)" text-anchor="end">0</text>
<line x1="195.5" y1="383.77" x2="197" y2="383.77" stroke="#999" stroke-width="1"/>
<text transform="translate(192.8,387.57) scale(1,1.06)" text-anchor="end">200</text>
<line x1="195.5" y1="362.03" x2="197" y2="362.03" stroke="#999" stroke-width="1"/>
<text transform="translate(192.8,365.83) scale(1,1.06)" text-anchor="end">400</text>
<line x1="195.5" y1="340.3" x2="197" y2="340.3" stroke="#999" stroke-width="1"/>
<text transform="translate(192.8,344.1) scale(1,1.06)" text-anchor="end">600</text>
<text transform="translate(210.6,344.3) scale(1,1.06)">clone HSS32</text>
<rect x="309.66" y="358.12" width="3.5" height="47.93" fill="#000"/>
<rect x="316.19" y="383.98" width="3.5" height="22.07" fill="#000"/>
<line x1="197" y1="447.3" x2="197" y2="515.2" stroke="#999" stroke-width="1.3"/>
<line x1="197" y1="513.2" x2="511" y2="513.2" stroke="#8c8c8c" stroke-width="1"/>
<line x1="203.54" y1="513.2" x2="203.54" y2="516" stroke="#6a6a6a" stroke-width="1"/>
<line x1="210.08" y1="513.2" x2="210.08" y2="516" stroke="#6a6a6a" stroke-width="1"/>
<line x1="216.62" y1="513.2" x2="216.62" y2="516" stroke="#6a6a6a" stroke-width="1"/>
<line x1="223.17" y1="513.2" x2="223.17" y2="516" stroke="#6a6a6a" stroke-width="1"/>
<line x1="229.71" y1="513.2" x2="229.71" y2="516" stroke="#6a6a6a" stroke-width="1"/>
<line x1="236.25" y1="513.2" x2="236.25" y2="516" stroke="#6a6a6a" stroke-width="1"/>
<line x1="242.79" y1="513.2" x2="242.79" y2="516" stroke="#6a6a6a" stroke-width="1"/>
<line x1="249.33" y1="513.2" x2="249.33" y2="516" stroke="#6a6a6a" stroke-width="1"/>
<line x1="255.88" y1="513.2" x2="255.88" y2="516" stroke="#6a6a6a" stroke-width="1"/>
<line x1="262.42" y1="513.2" x2="262.42" y2="516" stroke="#6a6a6a" stroke-width="1"/>
<line x1="268.96" y1="513.2" x2="268.96" y2="516" stroke="#6a6a6a" stroke-width="1"/>
<line x1="275.5" y1="513.2" x2="275.5" y2="516" stroke="#6a6a6a" stroke-width="1"/>
<line x1="282.04" y1="513.2" x2="282.04" y2="516" stroke="#6a6a6a" stroke-width="1"/>
<line x1="288.58" y1="513.2" x2="288.58" y2="516" stroke="#6a6a6a" stroke-width="1"/>
<line x1="295.12" y1="513.2" x2="295.12" y2="516" stroke="#6a6a6a" stroke-width="1"/>
<line x1="301.67" y1="513.2" x2="301.67" y2="516" stroke="#6a6a6a" stroke-width="1"/>
<line x1="308.21" y1="513.2" x2="308.21" y2="516" stroke="#6a6a6a" stroke-width="1"/>
<line x1="314.75" y1="513.2" x2="314.75" y2="516" stroke="#6a6a6a" stroke-width="1"/>
<line x1="321.29" y1="513.2" x2="321.29" y2="516" stroke="#6a6a6a" stroke-width="1"/>
<line x1="327.83" y1="513.2" x2="327.83" y2="516" stroke="#6a6a6a" stroke-width="1"/>
<line x1="334.38" y1="513.2" x2="334.38" y2="516" stroke="#6a6a6a" stroke-width="1"/>
<line x1="340.92" y1="513.2" x2="340.92" y2="516" stroke="#6a6a6a" stroke-width="1"/>
<line x1="347.46" y1="513.2" x2="347.46" y2="516" stroke="#6a6a6a" stroke-width="1"/>
<line x1="354" y1="513.2" x2="354" y2="516" stroke="#6a6a6a" stroke-width="1"/>
<line x1="360.54" y1="513.2" x2="360.54" y2="516" stroke="#6a6a6a" stroke-width="1"/>
<line x1="367.08" y1="513.2" x2="367.08" y2="516" stroke="#6a6a6a" stroke-width="1"/>
<line x1="373.62" y1="513.2" x2="373.62" y2="516" stroke="#6a6a6a" stroke-width="1"/>
<line x1="380.17" y1="513.2" x2="380.17" y2="516" stroke="#6a6a6a" stroke-width="1"/>
<line x1="386.71" y1="513.2" x2="386.71" y2="516" stroke="#6a6a6a" stroke-width="1"/>
<line x1="393.25" y1="513.2" x2="393.25" y2="516" stroke="#6a6a6a" stroke-width="1"/>
<line x1="399.79" y1="513.2" x2="399.79" y2="516" stroke="#6a6a6a" stroke-width="1"/>
<line x1="406.33" y1="513.2" x2="406.33" y2="516" stroke="#6a6a6a" stroke-width="1"/>
<line x1="412.88" y1="513.2" x2="412.88" y2="516" stroke="#6a6a6a" stroke-width="1"/>
<line x1="419.42" y1="513.2" x2="419.42" y2="516" stroke="#6a6a6a" stroke-width="1"/>
<line x1="425.96" y1="513.2" x2="425.96" y2="516" stroke="#6a6a6a" stroke-width="1"/>
<line x1="432.5" y1="513.2" x2="432.5" y2="516" stroke="#6a6a6a" stroke-width="1"/>
<line x1="439.04" y1="513.2" x2="439.04" y2="516" stroke="#6a6a6a" stroke-width="1"/>
<line x1="445.58" y1="513.2" x2="445.58" y2="516" stroke="#6a6a6a" stroke-width="1"/>
<line x1="452.12" y1="513.2" x2="452.12" y2="516" stroke="#6a6a6a" stroke-width="1"/>
<line x1="458.67" y1="513.2" x2="458.67" y2="516" stroke="#6a6a6a" stroke-width="1"/>
<line x1="465.21" y1="513.2" x2="465.21" y2="516" stroke="#6a6a6a" stroke-width="1"/>
<line x1="471.75" y1="513.2" x2="471.75" y2="516" stroke="#6a6a6a" stroke-width="1"/>
<line x1="478.29" y1="513.2" x2="478.29" y2="516" stroke="#6a6a6a" stroke-width="1"/>
<line x1="484.83" y1="513.2" x2="484.83" y2="516" stroke="#6a6a6a" stroke-width="1"/>
<line x1="491.38" y1="513.2" x2="491.38" y2="516" stroke="#6a6a6a" stroke-width="1"/>
<line x1="497.92" y1="513.2" x2="497.92" y2="516" stroke="#6a6a6a" stroke-width="1"/>
<line x1="504.46" y1="513.2" x2="504.46" y2="516" stroke="#6a6a6a" stroke-width="1"/>
<line x1="511" y1="513.2" x2="511" y2="516" stroke="#6a6a6a" stroke-width="1"/>
<line x1="195.5" y1="513.2" x2="197" y2="513.2" stroke="#999" stroke-width="1"/>
<text transform="translate(192.8,517) scale(1,1.06)" text-anchor="end">0</text>
<line x1="195.5" y1="496.73" x2="197" y2="496.73" stroke="#999" stroke-width="1"/>
<text transform="translate(192.8,500.53) scale(1,1.06)" text-anchor="end">200</text>
<line x1="195.5" y1="480.25" x2="197" y2="480.25" stroke="#999" stroke-width="1"/>
<text transform="translate(192.8,484.05) scale(1,1.06)" text-anchor="end">400</text>
<line x1="195.5" y1="463.78" x2="197" y2="463.78" stroke="#999" stroke-width="1"/>
<text transform="translate(192.8,467.58) scale(1,1.06)" text-anchor="end">600</text>
<line x1="195.5" y1="447.3" x2="197" y2="447.3" stroke="#999" stroke-width="1"/>
<text transform="translate(192.8,451.1) scale(1,1.06)" text-anchor="end">800</text>
<text transform="translate(210.6,451.3) scale(1,1.06)">clone HSS36</text>
<rect x="250.85" y="458.59" width="3.5" height="55.16" fill="#000"/>
<rect x="257.4" y="507.85" width="3.5" height="5.9" fill="#000"/>
<rect x="277.02" y="511.72" width="3.5" height="2.03" fill="#000"/>
<rect x="303.19" y="511.72" width="3.5" height="2.03" fill="#000"/>
<line x1="197" y1="549.8" x2="197" y2="619.4" stroke="#999" stroke-width="1.3"/>
<line x1="197" y1="617.4" x2="511.8" y2="617.4" stroke="#8c8c8c" stroke-width="1"/>
<line x1="203.56" y1="617.4" x2="203.56" y2="620.2" stroke="#6a6a6a" stroke-width="1"/>
<line x1="210.12" y1="617.4" x2="210.12" y2="620.2" stroke="#6a6a6a" stroke-width="1"/>
<line x1="216.68" y1="617.4" x2="216.68" y2="620.2" stroke="#6a6a6a" stroke-width="1"/>
<line x1="223.23" y1="617.4" x2="223.23" y2="620.2" stroke="#6a6a6a" stroke-width="1"/>
<line x1="229.79" y1="617.4" x2="229.79" y2="620.2" stroke="#6a6a6a" stroke-width="1"/>
<line x1="236.35" y1="617.4" x2="236.35" y2="620.2" stroke="#6a6a6a" stroke-width="1"/>
<line x1="242.91" y1="617.4" x2="242.91" y2="620.2" stroke="#6a6a6a" stroke-width="1"/>
<line x1="249.47" y1="617.4" x2="249.47" y2="620.2" stroke="#6a6a6a" stroke-width="1"/>
<line x1="256.02" y1="617.4" x2="256.02" y2="620.2" stroke="#6a6a6a" stroke-width="1"/>
<line x1="262.58" y1="617.4" x2="262.58" y2="620.2" stroke="#6a6a6a" stroke-width="1"/>
<line x1="269.14" y1="617.4" x2="269.14" y2="620.2" stroke="#6a6a6a" stroke-width="1"/>
<line x1="275.7" y1="617.4" x2="275.7" y2="620.2" stroke="#6a6a6a" stroke-width="1"/>
<line x1="282.26" y1="617.4" x2="282.26" y2="620.2" stroke="#6a6a6a" stroke-width="1"/>
<line x1="288.82" y1="617.4" x2="288.82" y2="620.2" stroke="#6a6a6a" stroke-width="1"/>
<line x1="295.38" y1="617.4" x2="295.38" y2="620.2" stroke="#6a6a6a" stroke-width="1"/>
<line x1="301.93" y1="617.4" x2="301.93" y2="620.2" stroke="#6a6a6a" stroke-width="1"/>
<line x1="308.49" y1="617.4" x2="308.49" y2="620.2" stroke="#6a6a6a" stroke-width="1"/>
<line x1="315.05" y1="617.4" x2="315.05" y2="620.2" stroke="#6a6a6a" stroke-width="1"/>
<line x1="321.61" y1="617.4" x2="321.61" y2="620.2" stroke="#6a6a6a" stroke-width="1"/>
<line x1="328.17" y1="617.4" x2="328.17" y2="620.2" stroke="#6a6a6a" stroke-width="1"/>
<line x1="334.73" y1="617.4" x2="334.73" y2="620.2" stroke="#6a6a6a" stroke-width="1"/>
<line x1="341.28" y1="617.4" x2="341.28" y2="620.2" stroke="#6a6a6a" stroke-width="1"/>
<line x1="347.84" y1="617.4" x2="347.84" y2="620.2" stroke="#6a6a6a" stroke-width="1"/>
<line x1="354.4" y1="617.4" x2="354.4" y2="620.2" stroke="#6a6a6a" stroke-width="1"/>
<line x1="360.96" y1="617.4" x2="360.96" y2="620.2" stroke="#6a6a6a" stroke-width="1"/>
<line x1="367.52" y1="617.4" x2="367.52" y2="620.2" stroke="#6a6a6a" stroke-width="1"/>
<line x1="374.08" y1="617.4" x2="374.08" y2="620.2" stroke="#6a6a6a" stroke-width="1"/>
<line x1="380.63" y1="617.4" x2="380.63" y2="620.2" stroke="#6a6a6a" stroke-width="1"/>
<line x1="387.19" y1="617.4" x2="387.19" y2="620.2" stroke="#6a6a6a" stroke-width="1"/>
<line x1="393.75" y1="617.4" x2="393.75" y2="620.2" stroke="#6a6a6a" stroke-width="1"/>
<line x1="400.31" y1="617.4" x2="400.31" y2="620.2" stroke="#6a6a6a" stroke-width="1"/>
<line x1="406.87" y1="617.4" x2="406.87" y2="620.2" stroke="#6a6a6a" stroke-width="1"/>
<line x1="413.43" y1="617.4" x2="413.43" y2="620.2" stroke="#6a6a6a" stroke-width="1"/>
<line x1="419.98" y1="617.4" x2="419.98" y2="620.2" stroke="#6a6a6a" stroke-width="1"/>
<line x1="426.54" y1="617.4" x2="426.54" y2="620.2" stroke="#6a6a6a" stroke-width="1"/>
<line x1="433.1" y1="617.4" x2="433.1" y2="620.2" stroke="#6a6a6a" stroke-width="1"/>
<line x1="439.66" y1="617.4" x2="439.66" y2="620.2" stroke="#6a6a6a" stroke-width="1"/>
<line x1="446.22" y1="617.4" x2="446.22" y2="620.2" stroke="#6a6a6a" stroke-width="1"/>
<line x1="452.77" y1="617.4" x2="452.77" y2="620.2" stroke="#6a6a6a" stroke-width="1"/>
<line x1="459.33" y1="617.4" x2="459.33" y2="620.2" stroke="#6a6a6a" stroke-width="1"/>
<line x1="465.89" y1="617.4" x2="465.89" y2="620.2" stroke="#6a6a6a" stroke-width="1"/>
<line x1="472.45" y1="617.4" x2="472.45" y2="620.2" stroke="#6a6a6a" stroke-width="1"/>
<line x1="479.01" y1="617.4" x2="479.01" y2="620.2" stroke="#6a6a6a" stroke-width="1"/>
<line x1="485.57" y1="617.4" x2="485.57" y2="620.2" stroke="#6a6a6a" stroke-width="1"/>
<line x1="492.12" y1="617.4" x2="492.12" y2="620.2" stroke="#6a6a6a" stroke-width="1"/>
<line x1="498.68" y1="617.4" x2="498.68" y2="620.2" stroke="#6a6a6a" stroke-width="1"/>
<line x1="505.24" y1="617.4" x2="505.24" y2="620.2" stroke="#6a6a6a" stroke-width="1"/>
<line x1="511.8" y1="617.4" x2="511.8" y2="620.2" stroke="#6a6a6a" stroke-width="1"/>
<line x1="195.5" y1="617.4" x2="197" y2="617.4" stroke="#999" stroke-width="1"/>
<text transform="translate(192.8,621.2) scale(1,1.06)" text-anchor="end">0</text>
<line x1="195.5" y1="594.87" x2="197" y2="594.87" stroke="#999" stroke-width="1"/>
<text transform="translate(192.8,598.67) scale(1,1.06)" text-anchor="end">200</text>
<line x1="195.5" y1="572.33" x2="197" y2="572.33" stroke="#999" stroke-width="1"/>
<text transform="translate(192.8,576.13) scale(1,1.06)" text-anchor="end">400</text>
<line x1="195.5" y1="549.8" x2="197" y2="549.8" stroke="#999" stroke-width="1"/>
<text transform="translate(192.8,553.6) scale(1,1.06)" text-anchor="end">600</text>
<text transform="translate(210.6,553.8) scale(1,1.06)">clone HSS41</text>
<rect x="342.81" y="555.1" width="3.5" height="62.85" fill="#000"/>
<rect x="349.37" y="613.01" width="3.5" height="4.94" fill="#000"/>
<line x1="197" y1="655.5" x2="197" y2="726.5" stroke="#999" stroke-width="1.3"/>
<line x1="197" y1="724.5" x2="512" y2="724.5" stroke="#8c8c8c" stroke-width="1"/>
<line x1="203.56" y1="724.5" x2="203.56" y2="727.3" stroke="#6a6a6a" stroke-width="1"/>
<line x1="210.12" y1="724.5" x2="210.12" y2="727.3" stroke="#6a6a6a" stroke-width="1"/>
<line x1="216.69" y1="724.5" x2="216.69" y2="727.3" stroke="#6a6a6a" stroke-width="1"/>
<line x1="223.25" y1="724.5" x2="223.25" y2="727.3" stroke="#6a6a6a" stroke-width="1"/>
<line x1="229.81" y1="724.5" x2="229.81" y2="727.3" stroke="#6a6a6a" stroke-width="1"/>
<line x1="236.38" y1="724.5" x2="236.38" y2="727.3" stroke="#6a6a6a" stroke-width="1"/>
<line x1="242.94" y1="724.5" x2="242.94" y2="727.3" stroke="#6a6a6a" stroke-width="1"/>
<line x1="249.5" y1="724.5" x2="249.5" y2="727.3" stroke="#6a6a6a" stroke-width="1"/>
<line x1="256.06" y1="724.5" x2="256.06" y2="727.3" stroke="#6a6a6a" stroke-width="1"/>
<line x1="262.62" y1="724.5" x2="262.62" y2="727.3" stroke="#6a6a6a" stroke-width="1"/>
<line x1="269.19" y1="724.5" x2="269.19" y2="727.3" stroke="#6a6a6a" stroke-width="1"/>
<line x1="275.75" y1="724.5" x2="275.75" y2="727.3" stroke="#6a6a6a" stroke-width="1"/>
<line x1="282.31" y1="724.5" x2="282.31" y2="727.3" stroke="#6a6a6a" stroke-width="1"/>
<line x1="288.88" y1="724.5" x2="288.88" y2="727.3" stroke="#6a6a6a" stroke-width="1"/>
<line x1="295.44" y1="724.5" x2="295.44" y2="727.3" stroke="#6a6a6a" stroke-width="1"/>
<line x1="302" y1="724.5" x2="302" y2="727.3" stroke="#6a6a6a" stroke-width="1"/>
<line x1="308.56" y1="724.5" x2="308.56" y2="727.3" stroke="#6a6a6a" stroke-width="1"/>
<line x1="315.12" y1="724.5" x2="315.12" y2="727.3" stroke="#6a6a6a" stroke-width="1"/>
<line x1="321.69" y1="724.5" x2="321.69" y2="727.3" stroke="#6a6a6a" stroke-width="1"/>
<line x1="328.25" y1="724.5" x2="328.25" y2="727.3" stroke="#6a6a6a" stroke-width="1"/>
<line x1="334.81" y1="724.5" x2="334.81" y2="727.3" stroke="#6a6a6a" stroke-width="1"/>
<line x1="341.38" y1="724.5" x2="341.38" y2="727.3" stroke="#6a6a6a" stroke-width="1"/>
<line x1="347.94" y1="724.5" x2="347.94" y2="727.3" stroke="#6a6a6a" stroke-width="1"/>
<line x1="354.5" y1="724.5" x2="354.5" y2="727.3" stroke="#6a6a6a" stroke-width="1"/>
<line x1="361.06" y1="724.5" x2="361.06" y2="727.3" stroke="#6a6a6a" stroke-width="1"/>
<line x1="367.62" y1="724.5" x2="367.62" y2="727.3" stroke="#6a6a6a" stroke-width="1"/>
<line x1="374.19" y1="724.5" x2="374.19" y2="727.3" stroke="#6a6a6a" stroke-width="1"/>
<line x1="380.75" y1="724.5" x2="380.75" y2="727.3" stroke="#6a6a6a" stroke-width="1"/>
<line x1="387.31" y1="724.5" x2="387.31" y2="727.3" stroke="#6a6a6a" stroke-width="1"/>
<line x1="393.88" y1="724.5" x2="393.88" y2="727.3" stroke="#6a6a6a" stroke-width="1"/>
<line x1="400.44" y1="724.5" x2="400.44" y2="727.3" stroke="#6a6a6a" stroke-width="1"/>
<line x1="407" y1="724.5" x2="407" y2="727.3" stroke="#6a6a6a" stroke-width="1"/>
<line x1="413.56" y1="724.5" x2="413.56" y2="727.3" stroke="#6a6a6a" stroke-width="1"/>
<line x1="420.12" y1="724.5" x2="420.12" y2="727.3" stroke="#6a6a6a" stroke-width="1"/>
<line x1="426.69" y1="724.5" x2="426.69" y2="727.3" stroke="#6a6a6a" stroke-width="1"/>
<line x1="433.25" y1="724.5" x2="433.25" y2="727.3" stroke="#6a6a6a" stroke-width="1"/>
<line x1="439.81" y1="724.5" x2="439.81" y2="727.3" stroke="#6a6a6a" stroke-width="1"/>
<line x1="446.38" y1="724.5" x2="446.38" y2="727.3" stroke="#6a6a6a" stroke-width="1"/>
<line x1="452.94" y1="724.5" x2="452.94" y2="727.3" stroke="#6a6a6a" stroke-width="1"/>
<line x1="459.5" y1="724.5" x2="459.5" y2="727.3" stroke="#6a6a6a" stroke-width="1"/>
<line x1="466.06" y1="724.5" x2="466.06" y2="727.3" stroke="#6a6a6a" stroke-width="1"/>
<line x1="472.62" y1="724.5" x2="472.62" y2="727.3" stroke="#6a6a6a" stroke-width="1"/>
<line x1="479.19" y1="724.5" x2="479.19" y2="727.3" stroke="#6a6a6a" stroke-width="1"/>
<line x1="485.75" y1="724.5" x2="485.75" y2="727.3" stroke="#6a6a6a" stroke-width="1"/>
<line x1="492.31" y1="724.5" x2="492.31" y2="727.3" stroke="#6a6a6a" stroke-width="1"/>
<line x1="498.88" y1="724.5" x2="498.88" y2="727.3" stroke="#6a6a6a" stroke-width="1"/>
<line x1="505.44" y1="724.5" x2="505.44" y2="727.3" stroke="#6a6a6a" stroke-width="1"/>
<line x1="512" y1="724.5" x2="512" y2="727.3" stroke="#6a6a6a" stroke-width="1"/>
<line x1="195.5" y1="724.5" x2="197" y2="724.5" stroke="#999" stroke-width="1"/>
<text transform="translate(192.8,728.3) scale(1,1.06)" text-anchor="end">0</text>
<line x1="195.5" y1="701.5" x2="197" y2="701.5" stroke="#999" stroke-width="1"/>
<text transform="translate(192.8,705.3) scale(1,1.06)" text-anchor="end">200</text>
<line x1="195.5" y1="678.5" x2="197" y2="678.5" stroke="#999" stroke-width="1"/>
<text transform="translate(192.8,682.3) scale(1,1.06)" text-anchor="end">400</text>
<line x1="195.5" y1="655.5" x2="197" y2="655.5" stroke="#999" stroke-width="1"/>
<text transform="translate(192.8,659.3) scale(1,1.06)" text-anchor="end">600</text>
<text transform="translate(210.6,659.5) scale(1,1.06)">clone HSS47</text>
<rect x="329.78" y="698.05" width="3.5" height="27" fill="#000"/>
<rect x="336.34" y="671.94" width="3.5" height="53.11" fill="#000"/>
<line x1="197" y1="762" x2="197" y2="833.5" stroke="#999" stroke-width="1.3"/>
<line x1="197" y1="831.5" x2="512.8" y2="831.5" stroke="#8c8c8c" stroke-width="1"/>
<line x1="203.58" y1="831.5" x2="203.58" y2="834.3" stroke="#6a6a6a" stroke-width="1"/>
<line x1="210.16" y1="831.5" x2="210.16" y2="834.3" stroke="#6a6a6a" stroke-width="1"/>
<line x1="216.74" y1="831.5" x2="216.74" y2="834.3" stroke="#6a6a6a" stroke-width="1"/>
<line x1="223.32" y1="831.5" x2="223.32" y2="834.3" stroke="#6a6a6a" stroke-width="1"/>
<line x1="229.9" y1="831.5" x2="229.9" y2="834.3" stroke="#6a6a6a" stroke-width="1"/>
<line x1="236.47" y1="831.5" x2="236.47" y2="834.3" stroke="#6a6a6a" stroke-width="1"/>
<line x1="243.05" y1="831.5" x2="243.05" y2="834.3" stroke="#6a6a6a" stroke-width="1"/>
<line x1="249.63" y1="831.5" x2="249.63" y2="834.3" stroke="#6a6a6a" stroke-width="1"/>
<line x1="256.21" y1="831.5" x2="256.21" y2="834.3" stroke="#6a6a6a" stroke-width="1"/>
<line x1="262.79" y1="831.5" x2="262.79" y2="834.3" stroke="#6a6a6a" stroke-width="1"/>
<line x1="269.37" y1="831.5" x2="269.37" y2="834.3" stroke="#6a6a6a" stroke-width="1"/>
<line x1="275.95" y1="831.5" x2="275.95" y2="834.3" stroke="#6a6a6a" stroke-width="1"/>
<line x1="282.53" y1="831.5" x2="282.53" y2="834.3" stroke="#6a6a6a" stroke-width="1"/>
<line x1="289.11" y1="831.5" x2="289.11" y2="834.3" stroke="#6a6a6a" stroke-width="1"/>
<line x1="295.69" y1="831.5" x2="295.69" y2="834.3" stroke="#6a6a6a" stroke-width="1"/>
<line x1="302.27" y1="831.5" x2="302.27" y2="834.3" stroke="#6a6a6a" stroke-width="1"/>
<line x1="308.85" y1="831.5" x2="308.85" y2="834.3" stroke="#6a6a6a" stroke-width="1"/>
<line x1="315.42" y1="831.5" x2="315.42" y2="834.3" stroke="#6a6a6a" stroke-width="1"/>
<line x1="322" y1="831.5" x2="322" y2="834.3" stroke="#6a6a6a" stroke-width="1"/>
<line x1="328.58" y1="831.5" x2="328.58" y2="834.3" stroke="#6a6a6a" stroke-width="1"/>
<line x1="335.16" y1="831.5" x2="335.16" y2="834.3" stroke="#6a6a6a" stroke-width="1"/>
<line x1="341.74" y1="831.5" x2="341.74" y2="834.3" stroke="#6a6a6a" stroke-width="1"/>
<line x1="348.32" y1="831.5" x2="348.32" y2="834.3" stroke="#6a6a6a" stroke-width="1"/>
<line x1="354.9" y1="831.5" x2="354.9" y2="834.3" stroke="#6a6a6a" stroke-width="1"/>
<line x1="361.48" y1="831.5" x2="361.48" y2="834.3" stroke="#6a6a6a" stroke-width="1"/>
<line x1="368.06" y1="831.5" x2="368.06" y2="834.3" stroke="#6a6a6a" stroke-width="1"/>
<line x1="374.64" y1="831.5" x2="374.64" y2="834.3" stroke="#6a6a6a" stroke-width="1"/>
<line x1="381.22" y1="831.5" x2="381.22" y2="834.3" stroke="#6a6a6a" stroke-width="1"/>
<line x1="387.8" y1="831.5" x2="387.8" y2="834.3" stroke="#6a6a6a" stroke-width="1"/>
<line x1="394.38" y1="831.5" x2="394.38" y2="834.3" stroke="#6a6a6a" stroke-width="1"/>
<line x1="400.95" y1="831.5" x2="400.95" y2="834.3" stroke="#6a6a6a" stroke-width="1"/>
<line x1="407.53" y1="831.5" x2="407.53" y2="834.3" stroke="#6a6a6a" stroke-width="1"/>
<line x1="414.11" y1="831.5" x2="414.11" y2="834.3" stroke="#6a6a6a" stroke-width="1"/>
<line x1="420.69" y1="831.5" x2="420.69" y2="834.3" stroke="#6a6a6a" stroke-width="1"/>
<line x1="427.27" y1="831.5" x2="427.27" y2="834.3" stroke="#6a6a6a" stroke-width="1"/>
<line x1="433.85" y1="831.5" x2="433.85" y2="834.3" stroke="#6a6a6a" stroke-width="1"/>
<line x1="440.43" y1="831.5" x2="440.43" y2="834.3" stroke="#6a6a6a" stroke-width="1"/>
<line x1="447.01" y1="831.5" x2="447.01" y2="834.3" stroke="#6a6a6a" stroke-width="1"/>
<line x1="453.59" y1="831.5" x2="453.59" y2="834.3" stroke="#6a6a6a" stroke-width="1"/>
<line x1="460.17" y1="831.5" x2="460.17" y2="834.3" stroke="#6a6a6a" stroke-width="1"/>
<line x1="466.75" y1="831.5" x2="466.75" y2="834.3" stroke="#6a6a6a" stroke-width="1"/>
<line x1="473.32" y1="831.5" x2="473.32" y2="834.3" stroke="#6a6a6a" stroke-width="1"/>
<line x1="479.9" y1="831.5" x2="479.9" y2="834.3" stroke="#6a6a6a" stroke-width="1"/>
<line x1="486.48" y1="831.5" x2="486.48" y2="834.3" stroke="#6a6a6a" stroke-width="1"/>
<line x1="493.06" y1="831.5" x2="493.06" y2="834.3" stroke="#6a6a6a" stroke-width="1"/>
<line x1="499.64" y1="831.5" x2="499.64" y2="834.3" stroke="#6a6a6a" stroke-width="1"/>
<line x1="506.22" y1="831.5" x2="506.22" y2="834.3" stroke="#6a6a6a" stroke-width="1"/>
<line x1="512.8" y1="831.5" x2="512.8" y2="834.3" stroke="#6a6a6a" stroke-width="1"/>
<line x1="195.5" y1="831.5" x2="197" y2="831.5" stroke="#999" stroke-width="1"/>
<text transform="translate(192.8,835.3) scale(1,1.06)" text-anchor="end">0</text>
<line x1="195.5" y1="808.33" x2="197" y2="808.33" stroke="#999" stroke-width="1"/>
<text transform="translate(192.8,812.13) scale(1,1.06)" text-anchor="end">50</text>
<line x1="195.5" y1="785.17" x2="197" y2="785.17" stroke="#999" stroke-width="1"/>
<text transform="translate(193.2,788.97) scale(1,1.06)" text-anchor="end">100</text>
<line x1="195.5" y1="762" x2="197" y2="762" stroke="#999" stroke-width="1"/>
<text transform="translate(193.2,765.8) scale(1,1.06)" text-anchor="end">150</text>
<text transform="translate(210.6,766) scale(1,1.06)">clone HSS53</text>
<rect x="244.59" y="830.02" width="3.5" height="2.03" fill="#000"/>
<rect x="323.54" y="769.18" width="3.5" height="62.87" fill="#000"/>
<rect x="402.49" y="830.02" width="3.5" height="2.03" fill="#000"/>
<rect x="422.23" y="830.02" width="3.5" height="2.03" fill="#000"/>
<rect x="428.81" y="830.02" width="3.5" height="2.03" fill="#000"/>
<text transform="translate(208.1,847) scale(1,1.06)" text-anchor="middle" style="font-size:9.3px">2</text>
<text transform="translate(220.6,847) scale(1,1.06)" text-anchor="middle" style="font-size:9.3px">4</text>
<text transform="translate(234.4,847) scale(1,1.06)" text-anchor="middle" style="font-size:9.3px">6</text>
<text transform="translate(247.5,847) scale(1,1.06)" text-anchor="middle" style="font-size:9.3px">8</text>
<text transform="translate(263.8,847) scale(1,1.06)" text-anchor="middle" style="font-size:9.3px">10</text>
<text transform="translate(275.6,847) scale(1,1.06)" text-anchor="middle" style="font-size:9.3px">12</text>
<text transform="translate(288.4,847) scale(1,1.06)" text-anchor="middle" style="font-size:9.3px">14</text>
<text transform="translate(301.1,847) scale(1,1.06)" text-anchor="middle" style="font-size:9.3px">16</text>
<text transform="translate(314.8,847) scale(1,1.06)" text-anchor="middle" style="font-size:9.3px">18</text>
<text transform="translate(328.7,847) scale(1,1.06)" text-anchor="middle" style="font-size:9.3px">20</text>
<text transform="translate(342.2,847) scale(1,1.06)" text-anchor="middle" style="font-size:9.3px">22</text>
<text transform="translate(355.3,847) scale(1,1.06)" text-anchor="middle" style="font-size:9.3px">24</text>
<text transform="translate(368.4,847) scale(1,1.06)" text-anchor="middle" style="font-size:9.3px">26</text>
<text transform="translate(381.2,847) scale(1,1.06)" text-anchor="middle" style="font-size:9.3px">28</text>
<text transform="translate(394.6,847) scale(1,1.06)" text-anchor="middle" style="font-size:9.3px">30</text>
<text transform="translate(407.6,847) scale(1,1.06)" text-anchor="middle" style="font-size:9.3px">32</text>
<text transform="translate(420.3,847) scale(1,1.06)" text-anchor="middle" style="font-size:9.3px">34</text>
<text transform="translate(433.4,847) scale(1,1.06)" text-anchor="middle" style="font-size:9.3px">36</text>
<text transform="translate(446.9,847) scale(1,1.06)" text-anchor="middle" style="font-size:9.3px">38</text>
<text transform="translate(460,847) scale(1,1.06)" text-anchor="middle" style="font-size:9.3px">40</text>
<text transform="translate(471.9,847) scale(1,1.06)" text-anchor="middle" style="font-size:9.3px">42</text>
<text transform="translate(486.2,847) scale(1,1.06)" text-anchor="middle" style="font-size:9.3px">44</text>
<text transform="translate(498.6,847) scale(1,1.06)" text-anchor="middle" style="font-size:9.3px">46</text>
<text transform="translate(511.3,847) scale(1,1.06)" text-anchor="middle" style="font-size:9.3px">48</text>
<text transform="translate(203.5,866) scale(1,1.06)" style="font-size:9.4px">HPLC fractions</text>
<line x1="275.8" y1="863" x2="312" y2="863" stroke="#4a4a4a" stroke-width="1.3"/>
<path d="M311.5,859.6 L320.8,863 L311.5,866.4 Z" fill="#000"/>
<text transform="translate(14.9,830.2) rotate(-90)" style="font-size:12.7px" fill="#000">IFNγ pg/ml</text>
<line x1="10.8" y1="717" x2="10.8" y2="753" stroke="#4a4a4a" stroke-width="1.4"/>
<path d="M7.9,718 L10.8,708.5 L13.7,718 Z" fill="#000"/>
<text transform="translate(8.6,15.8) scale(1.08,1)" style="font-size:16.2px;font-weight:bold" fill="#000">A</text>
<text transform="translate(165.6,16.6) scale(1.1,1)" style="font-size:16.2px;font-weight:bold" fill="#000">B</text>
</svg>
</body></html>
